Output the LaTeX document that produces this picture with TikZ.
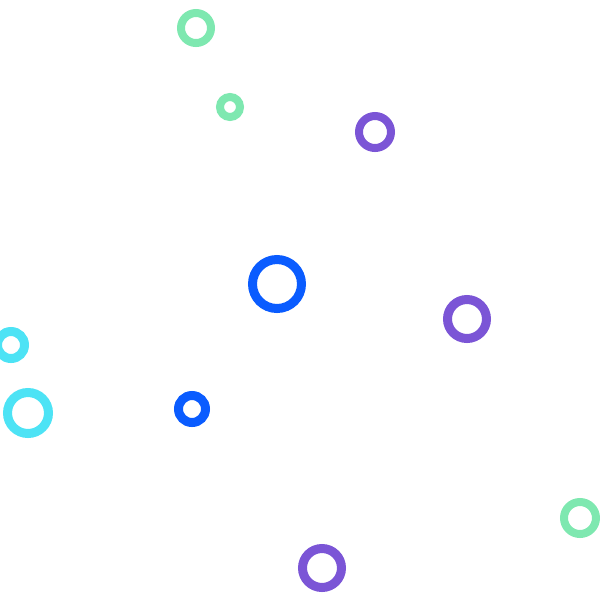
\documentclass[tikz,border=0pt]{standalone}
\usepackage{xcolor}
\definecolor{ringgreen}{HTML}{7EE8B0}
\definecolor{ringpurple}{HTML}{7B55D6}
\definecolor{ringblue}{HTML}{0A5CFF}
\definecolor{ringcyan}{HTML}{4DE3F5}
\tikzset{ring/.style={draw=#1}}
\begin{document}
\begin{tikzpicture}[x=0.02cm,y=-0.02cm]
    \useasboundingbox (0,0) rectangle (600,600);
    % x, y, radius, stroke, colour
    \foreach \x/\y/\r/\w/\c in {196/28/15/8/ringgreen, 230/107/10/8/ringgreen,
        375/132/16/8/ringpurple, 277/284/24.5/9/ringblue, 467/319/19.5/9/ringpurple,
        11/345/13.5/9/ringcyan, 28/413/20.5/9/ringcyan, 192/409/13.5/9/ringblue,
        580/518/16/8/ringgreen, 322/568/19.5/9/ringpurple}
        \draw[ring=\c, line width=\w*0.02cm] (\x,\y) circle[radius=\r];
\end{tikzpicture}
\end{document}
